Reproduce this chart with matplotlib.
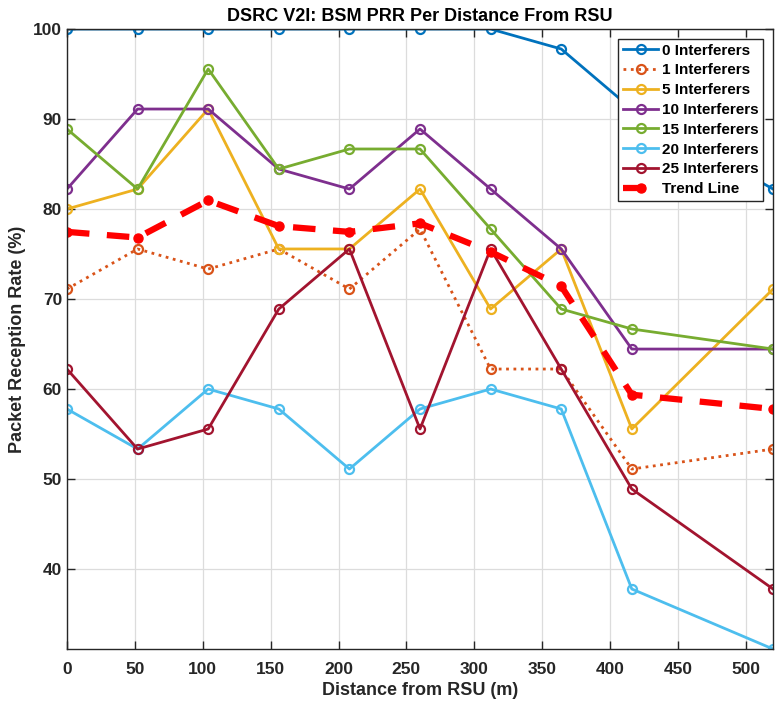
import numpy as np
import matplotlib.pyplot as plt

plt.rcParams['font.family'] = ['Liberation Sans', 'DejaVu Sans']
plt.rcParams['font.weight'] = 'bold'

# distance from RSU (m)
dist = [0, 52, 104, 156, 208, 260, 312, 364, 416, 520]

# PRR (%) for each interferer count
prr_0 = [100, 100, 100, 100, 100, 100, 100, 97.78, 91.11, 82.22]
prr_1 = [71.11, 75.56, 73.33, 75.56, 71.11, 77.78, 62.22, 62.22, 51.11, 53.33]
prr_5 = [80.0, 82.22, 91.11, 75.56, 75.56, 82.22, 68.89, 75.56, 55.56, 71.11]
prr_10 = [82.22, 91.11, 91.11, 84.44, 82.22, 88.89, 82.22, 75.56, 64.44, 64.44]
prr_15 = [88.89, 82.22, 95.56, 84.44, 86.67, 86.67, 77.78, 68.89, 66.67, 64.44]
prr_20 = [57.78, 53.33, 60.0, 57.78, 51.11, 57.78, 60.0, 57.78, 37.78, 31.11]
prr_25 = [62.22, 53.33, 55.56, 68.89, 75.56, 55.56, 75.56, 62.22, 48.89, 37.78]
trend = [77.46, 76.83, 80.95, 78.10, 77.46, 78.41, 75.24, 71.43, 59.37, 57.78]

labels = ['0 Interferers', '1 Interferers', '5 Interferers', '10 Interferers',
          '15 Interferers', '20 Interferers', '25 Interferers']
colors = ['#0072BD', '#D95319', '#EDB120', '#7E2F8E', '#77AC30', '#4DBEEE', '#A2142F']
series = [prr_0, prr_1, prr_5, prr_10, prr_15, prr_20, prr_25]

fig = plt.figure(figsize=(7.77, 7.06), dpi=100)
ax = fig.add_axes([0.0862, 0.0807, 0.9087, 0.8782])

for vals, lab, col in zip(series, labels, colors):
    ls = ':' if lab.startswith('1 ') else '-'
    ax.plot(dist, vals, ls, color=col, lw=2, marker='o', ms=6.5,
            mfc='none', mew=1.6, label=lab)

ax.plot(dist, trend, '--', color='red', lw=4.5, marker='.', ms=13,
        dashes=(3.6, 2.8), label='Trend Line')

ax.set_xlim(0, 520)
ax.set_ylim(31.11, 100)
ax.set_xticks(np.arange(0, 501, 50))
ax.set_yticks(np.arange(40, 101, 10))
ax.grid(True, color='#dcdcdc', lw=0.9)
ax.set_axisbelow(True)
ax.tick_params(direction='in', length=6, width=1, top=True, right=True,
               labelsize=12.5, colors='#262626')
ax.tick_params(axis='x', pad=9)
ax.tick_params(axis='y', pad=3.5)
for sp in ax.spines.values():
    sp.set_color('#262626')
    sp.set_linewidth(1)
for lbl in ax.get_xticklabels() + ax.get_yticklabels():
    lbl.set_fontweight('bold')

ax.set_title('DSRC V2I: BSM PRR Per Distance From RSU', fontsize=13,
             fontweight='bold', pad=6)
ax.set_xlabel('Distance from RSU (m)', fontsize=13, fontweight='bold',
              color='#262626', labelpad=4)
ax.set_ylabel('Packet Reception Rate (%)', fontsize=13, fontweight='bold',
              color='#262626', labelpad=5)

leg = ax.legend(loc='upper right', prop={'weight': 'bold', 'size': 11},
                frameon=True, fancybox=False, edgecolor='#262626', framealpha=1,
                borderpad=0.3, labelspacing=0.38, handlelength=2.3,
                handletextpad=0.25, borderaxespad=0.65)
leg.get_frame().set_linewidth(1)

fig.savefig('out.png', dpi=100)
